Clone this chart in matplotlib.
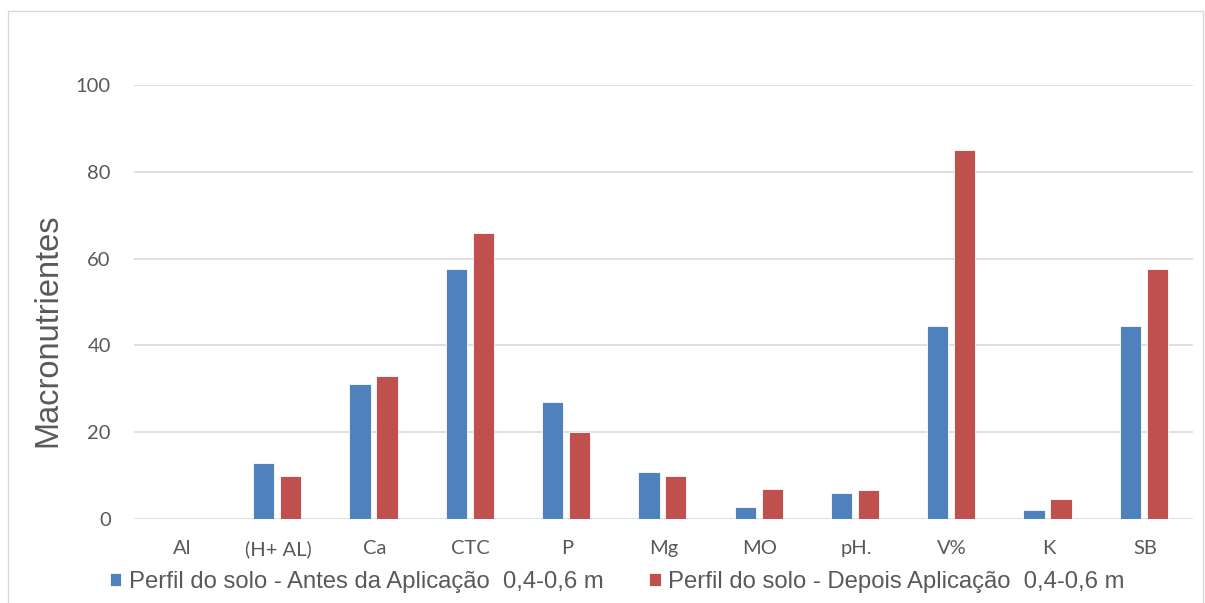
import numpy as np
import matplotlib.pyplot as plt
from matplotlib.patches import Rectangle

# dados
categorias = ['Al', '(H+ AL)', 'Ca', 'CTC', 'P', 'Mg', 'MO', 'pH.', 'V%', 'K', 'SB']
antes = [0, 13, 31, 57.5, 27, 10.8, 2.8, 5.9, 44.5, 2.1, 44.5]
depois = [0, 10, 33, 66, 20, 9.9, 6.8, 6.6, 85, 4.5, 57.5]
rotulo_antes = 'Perfil do solo - Antes da Aplicação  0,4-0,6 m'
rotulo_depois = 'Perfil do solo - Depois Aplicação  0,4-0,6 m'
y_ticks = [0, 20, 40, 60, 80, 100]

azul = '#4F81BD'
vermelho = '#C0504D'
cinza_texto = '#595959'

fig = plt.figure(figsize=(12.05, 6.03), dpi=100)
ax = fig.add_axes([0.111, 0.1393, 0.879, 0.7197])

# borda do gráfico (estilo Excel)
fig.patches.append(Rectangle((0.0066, -0.01), 0.992, 0.992, transform=fig.transFigure,
                             fill=False, edgecolor='#D9D9D9', linewidth=1))

x = np.arange(len(categorias))
largura = 0.22
ax.bar(x - 0.15, antes, largura, color=azul, edgecolor='white', linewidth=0.6,
       label=rotulo_antes, zorder=3)
ax.bar(x + 0.13, depois, largura, color=vermelho, edgecolor='white', linewidth=0.6,
       label=rotulo_depois, zorder=3)

ax.set_xlim(-0.5, len(categorias) - 0.5)
ax.set_ylim(0, 100)
ax.set_yticks(y_ticks)
ax.grid(axis='y', color='#D9D9D9', linewidth=1.2, zorder=0)
for s in ax.spines.values():
    s.set_visible(False)
ax.tick_params(length=0, labelsize=14.5, labelcolor=cinza_texto)
ax.tick_params(axis='x', pad=15)
ax.tick_params(axis='y', pad=16.5)
ax.set_xticks(x)
ax.set_xticklabels(categorias, fontfamily='Lato')
for t in ax.get_yticklabels():
    t.set_fontfamily('Lato')

ax.set_ylabel('Macronutrientes', fontsize=23.5, color=cinza_texto,
              fontfamily='Liberation Sans')
ax.yaxis.set_label_coords(-0.066, 0.435)

fig.legend(loc='center left', bbox_to_anchor=(0.081, 0.035), ncol=2,
           frameon=False, prop={'family': 'Liberation Sans', 'size': 17.2},
           labelcolor=cinza_texto, handlelength=0.5, handleheight=0.5,
           handletextpad=0.3, columnspacing=1.9, borderpad=0)

fig.savefig('out.png', dpi=100)
